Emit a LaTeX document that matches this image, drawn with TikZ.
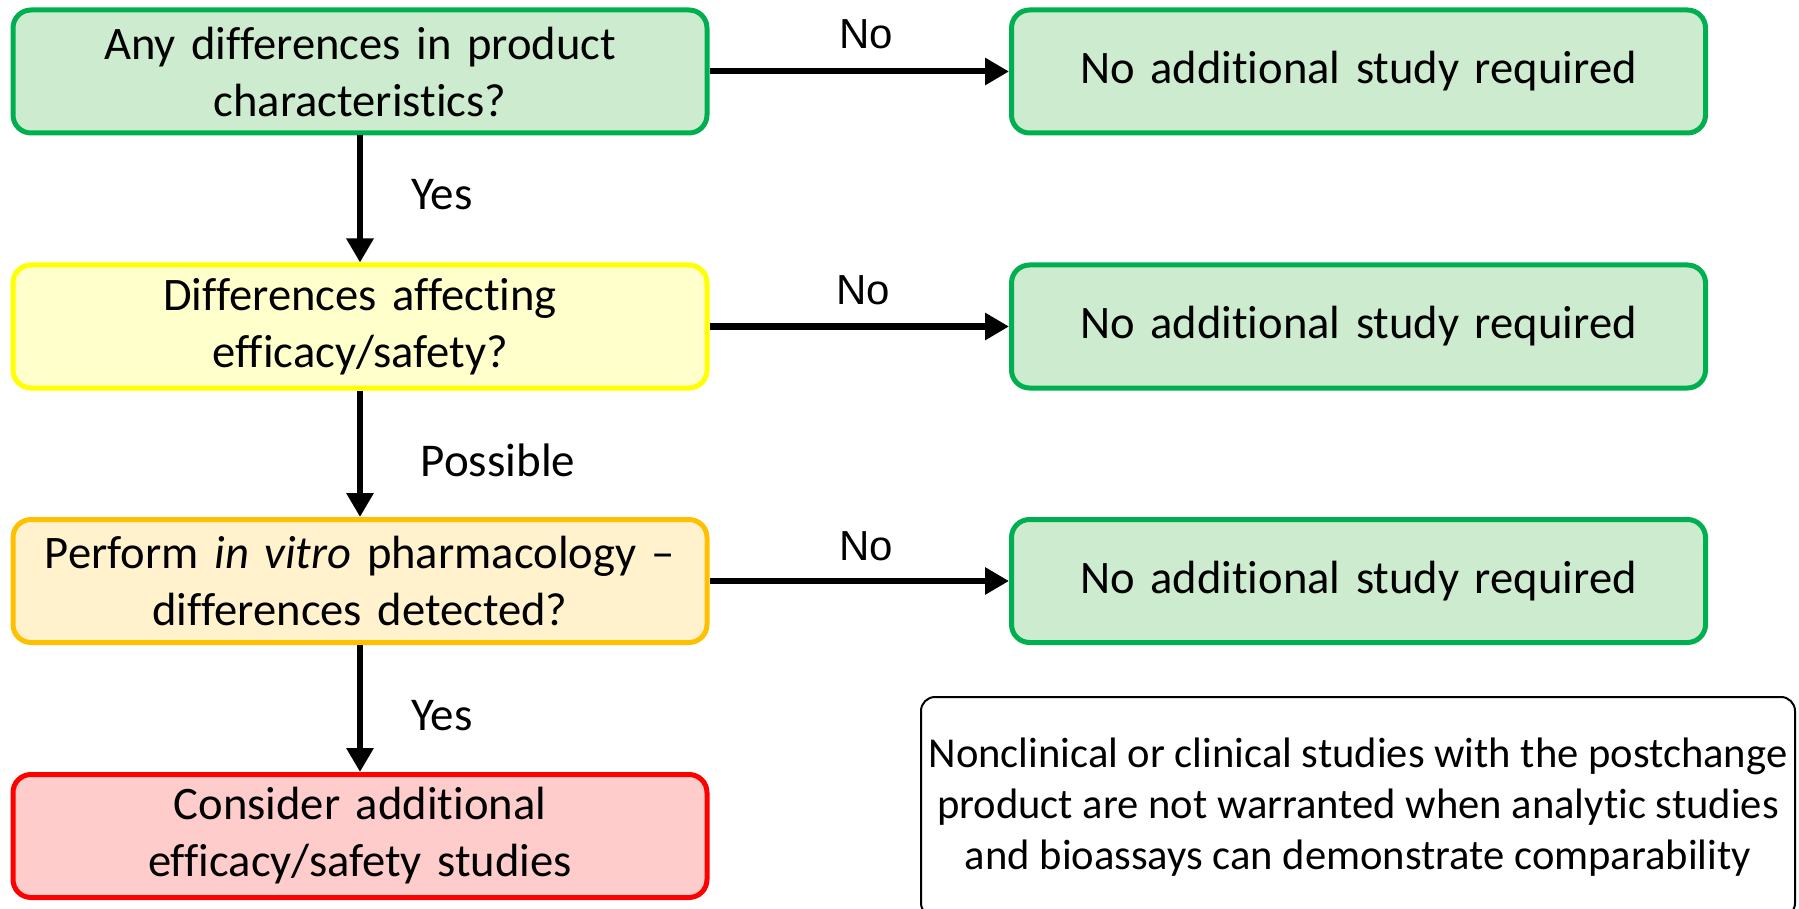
\documentclass[tikz,border=0pt]{standalone}
\usepackage{fontspec}
\setmainfont{Carlito}[Ligatures=NoCommon]
\newfontfamily\arialfont{Liberation Sans}
\usetikzlibrary{arrows.meta}
\definecolor{gfill}{HTML}{CDEBCE}
\definecolor{gdraw}{HTML}{00B050}
\definecolor{yfill}{HTML}{FFFFCC}
\definecolor{ydraw}{HTML}{FFFF00}
\definecolor{ofill}{HTML}{FFF2CC}
\definecolor{odraw}{HTML}{FFC000}
\definecolor{rfill}{HTML}{FFCCCC}
\definecolor{rdraw}{HTML}{FF0000}
\newcommand{\noreq}{\raisebox{-1.7pt}{No additional study required}}
\begin{document}
\begin{tikzpicture}[x=0.5pt,y=-0.5pt,
  box/.style={draw, line width=2.5pt, rounded corners=9pt, minimum width=347pt, minimum height=61.5pt,
    align=center, inner sep=0pt, text width=345pt, font=\fontsize{23.3}{28.5}\selectfont},
  green/.style={box, draw=gdraw, fill=gfill},
  arr/.style={line width=3pt, -{Triangle[length=12pt,width=13pt]}},
  lbl/.style={font=\fontsize{23.5}{26}\selectfont, inner sep=0pt},
  nolbl/.style={font=\arialfont\fontsize{21}{24}\selectfont, inner sep=0pt}
]
\useasboundingbox (0,0) rectangle (1799,909);
\node[box, draw=gdraw, fill=gfill] (b1) at (360,71.5) {Any differences in product\\characteristics?};
\node[box, draw=ydraw, fill=yfill] (b2) at (360,326.5) {Differences affecting\\efficacy/safety?};
\node[box, draw=odraw, fill=ofill] (b3) at (360,581) {Perform \textit{in vitro} pharmacology --\\differences detected?};
\node[box, draw=rdraw, fill=rfill] (b4) at (360,836) {Consider additional\\efficacy/safety studies};
\node[green] (r1) at (1358.5,71.5) {\noreq};
\node[green] (r2) at (1358.5,326.5) {\noreq};
\node[green] (r3) at (1358.5,581) {\noreq};
\node[draw, line width=1pt, rounded corners=7pt, minimum width=437pt, minimum height=110pt, inner sep=0pt,
  align=center, font=\fontsize{21.3}{25.5}\selectfont] (note) at (1358,807)
  {Nonclinical or clinical studies with the postchange\\product are not warranted when analytic studies\\and bioassays can demonstrate comparability};
\draw[arr] (b1) -- (b2);
\draw[arr] (b2) -- (b3);
\draw[arr] (b3) -- (b4);
\draw[arr] (b1) -- (r1);
\draw[arr] (b2) -- (r2);
\draw[arr] (b3) -- (r3);
\node[nolbl] (n1) at (866,34) {No};
\node[nolbl] (n2) at (863,290) {No};
\node[nolbl] (n3) at (866,546) {No};
\node[lbl] (y1) at (442,195) {Yes};
\node[lbl] (p1) at (498,460) {Possible};
\node[lbl] (y2) at (442,716) {Yes};
\end{tikzpicture}
\end{document}
